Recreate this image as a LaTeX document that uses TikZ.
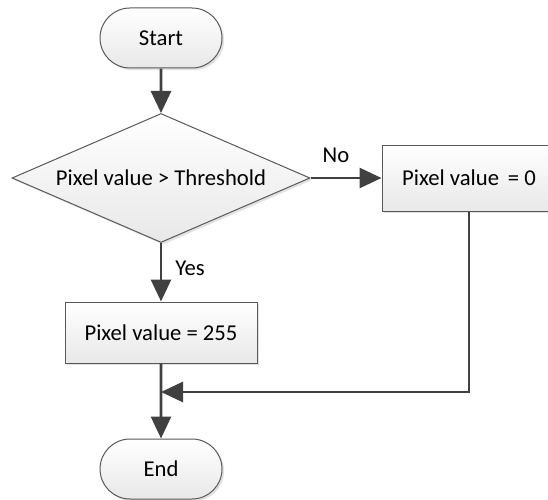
\documentclass[tikz,border=0pt]{standalone}
\usepackage{fontspec}
\setmainfont{Carlito}
\usetikzlibrary{shapes.geometric}
\usetikzlibrary{shapes.misc}
\usetikzlibrary{shadows}
\usetikzlibrary{arrows.meta}

\tikzset{
  flowshape/.style={draw={rgb,255:red,89;green,89;blue,89}, line width=0.75pt, top color=white, bottom color={rgb,255:red,232;green,232;blue,232}, drop shadow={shadow xshift=1.6pt, shadow yshift=-1.6pt, fill=gray!45, opacity=0.5}, inner sep=0pt, font=\fontsize{17}{20}\selectfont},
  terminal/.style={flowshape, rounded rectangle, minimum width=91.5pt, minimum height=45pt},
  decision/.style={flowshape, diamond, aspect=2.31, minimum width=223.5pt, minimum height=96.75pt},
  process/.style={flowshape, rectangle, minimum height=47pt},
  flowline/.style={draw={rgb,255:red,64;green,64;blue,64}, line width=2.1pt},
  flowarrow/.style={flowline, -{Triangle[length=16.5pt,width=15pt]}},
  flowlabel/.style={inner sep=0.75pt, font=\fontsize{17}{20}\selectfont}
}

\begin{document}
\begin{tikzpicture}[x=0.75pt,y=0.75pt,yscale=-1,xscale=1]
\useasboundingbox (0,0) rectangle (548,499);

%Shape: Terminal [id:start]
\node [terminal] (start) at (161,38) {Start};
%Shape: Diamond [id:test]
\node [decision] (test) at (161,178) {Pixel value > Threshold};
%Shape: Rectangle [id:zero]
\node [process, minimum width=130.5pt, minimum height=49.5pt] (zero) at (469,178) {Pixel value \,= 0};
%Shape: Rectangle [id:full]
\node [process, minimum width=144pt, minimum height=45.75pt] (full) at (161,332.5) {Pixel value = 255};
%Shape: Terminal [id:stop]
\node [terminal] (stop) at (161,469) {End};
\coordinate (merge) at (161,392);

%Straight Lines
\draw [flowarrow] (start) -- (test);
\draw [flowarrow] (test) -- (zero);
\draw [flowarrow] (test) -- (full);
\draw [flowarrow] (full) -- (stop);
\draw [flowarrow] (zero.south) |- (merge);

% Text Node
\draw (336,155) node [flowlabel] (no) {No};
% Text Node
\draw (174,268) node [flowlabel, anchor=west] (yes) {Yes};

\end{tikzpicture}
\end{document}
